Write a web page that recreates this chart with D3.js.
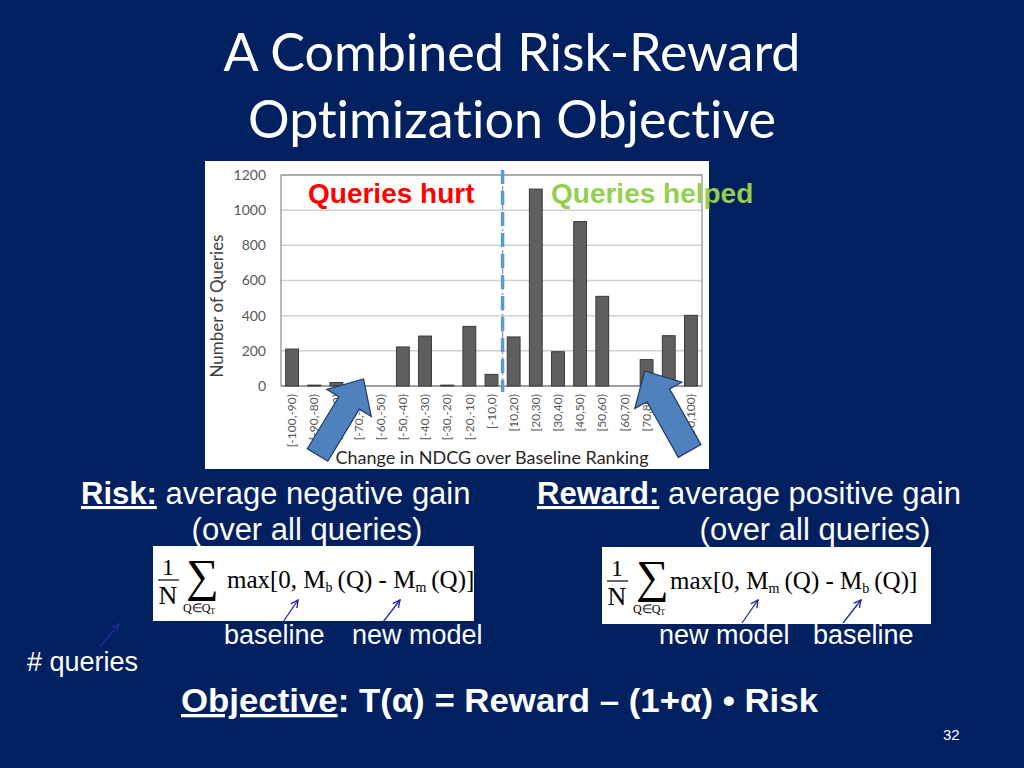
<!DOCTYPE html>
<html>
<head>
<meta charset="utf-8">
<script src="https://cdnjs.cloudflare.com/ajax/libs/d3/7.8.5/d3.min.js"></script>
<style>
  body { margin: 0; background: #002060; }
  svg { display: block; }
  text { font-variant-ligatures: none; }
</style>
</head>
<body>
<svg id="slide" width="1024" height="768"></svg>
<script>
"use strict";

// chart data
var categories = ["[-100,-90)", "[-90,-80)", "[-80,-70)", "[-70,-60)", "[-60,-50)",
                  "[-50,-40)", "[-40,-30)", "[-30,-20)", "[-20,-10)", "[-10,0)",
                  "[10,20)", "[20,30)", "[30,40)", "[40,50)", "[50,60)",
                  "[60,70)", "[70,80)", "[80,90)", "[90,100)"];
var counts = [210, 5, 20, 0, 0, 222, 284, 5, 339, 66,
              279, 1120, 195, 935, 510, 0, 150, 286, 402];
var yTicks = [0, 200, 400, 600, 800, 1000, 1200];
var splitIndex = 10;   // first "helped" bucket

var svg = d3.select("#slide");
var sans = "'Liberation Sans', Arial, sans-serif";
var serif = "'Liberation Serif', 'Times New Roman', serif";
var calibri = "Lato, 'Open Sans', sans-serif";

svg.append("rect").attr("width", 1024).attr("height", 768).attr("fill", "#002060");

// title
var title = ["A Combined Risk-Reward", "Optimization Objective"];
svg.selectAll("text.title").data(title).enter().append("text")
    .attr("class", "title")
    .attr("x", 512)
    .attr("y", function(d, i) { return 71 + i * 67; })
    .attr("text-anchor", "middle")
    .attr("fill", "white")
    .style("font-family", calibri)
    .style("font-size", "52px")
    .text(function(d) { return d; });

// ---- histogram picture ----
svg.append("rect")
    .attr("x", 205).attr("y", 161).attr("width", 504).attr("height", 308)
    .attr("fill", "white");

var plot = { left: 281, right: 702, top: 175, bottom: 386 };

var x = d3.scaleBand()
    .domain(categories)
    .range([plot.left, plot.right])
    .paddingInner(0.42)
    .paddingOuter(0.21);

var y = d3.scaleLinear()
    .domain([0, 1200])
    .range([plot.bottom, plot.top]);

var chart = svg.append("g");

// gridlines
chart.selectAll("line.grid").data(yTicks).enter().append("line")
    .attr("class", "grid")
    .attr("x1", plot.left).attr("x2", plot.right)
    .attr("y1", function(d) { return y(d); })
    .attr("y2", function(d) { return y(d); })
    .attr("stroke", function(d) { return d === 0 ? "#a6a6a6" : "#d0d0d0"; })
    .attr("stroke-width", 1.5);

chart.append("rect")
    .attr("x", plot.left).attr("y", plot.top)
    .attr("width", plot.right - plot.left).attr("height", plot.bottom - plot.top)
    .attr("fill", "none")
    .attr("stroke", "#8c8c8c")
    .attr("stroke-width", 1.2);

// bars
chart.selectAll("rect.bar").data(counts).enter().append("rect")
    .attr("class", "bar")
    .attr("x", function(d, i) { return x(categories[i]); })
    .attr("y", function(d) { return y(d); })
    .attr("width", x.bandwidth())
    .attr("height", function(d) { return plot.bottom - y(d); })
    .attr("fill", "#5f5f5f")
    .attr("stroke", "#3a3a3a")
    .attr("stroke-width", 1);

// y axis
var yAxis = chart.append("g")
    .attr("transform", "translate(" + plot.left + ",0)")
    .call(d3.axisLeft(y).tickValues(yTicks).tickFormat(d3.format("d"))
        .tickSize(0).tickPadding(15));
yAxis.select(".domain").remove();
yAxis.selectAll("text")
    .attr("fill", "#595959")
    .style("font-family", calibri)
    .style("font-size", "14px");

// x axis, labels rotated
var xAxis = chart.append("g")
    .attr("transform", "translate(0," + plot.bottom + ")")
    .call(d3.axisBottom(x).tickSize(0));
xAxis.select(".domain").remove();
xAxis.selectAll("text")
    .attr("transform", "rotate(-90)")
    .attr("text-anchor", "end")
    .attr("x", -8)
    .attr("y", 0)
    .attr("dy", "0.35em")
    .attr("fill", "#595959")
    .style("font-family", calibri)
    .style("font-size", "12px");

chart.append("text")
    .attr("transform", "translate(223,306) rotate(-90)")
    .attr("text-anchor", "middle")
    .attr("fill", "#404040")
    .style("font-family", calibri)
    .style("font-size", "17px")
    .text("Number of Queries");

chart.append("text")
    .attr("x", 492).attr("y", 464)
    .attr("text-anchor", "middle")
    .attr("fill", "#262626")
    .style("font-family", calibri)
    .style("font-size", "18px")
    .text("Change in NDCG over Baseline Ranking");

// split line between hurt and helped
var splitX = x(categories[splitIndex]) - x.step() * x.paddingInner() / 2;
chart.append("line")
    .attr("x1", splitX).attr("x2", splitX)
    .attr("y1", 170).attr("y2", plot.bottom + 6)
    .attr("stroke", "#a0a0a0").attr("stroke-width", 1.5)
    .attr("stroke-dasharray", "8,3,2,3");
chart.append("line")
    .attr("x1", splitX).attr("x2", splitX)
    .attr("y1", 170).attr("y2", plot.bottom + 6)
    .attr("stroke", "#5b9bd5").attr("stroke-width", 3.5)
    .attr("stroke-dasharray", "14,7");

chart.append("text")
    .attr("x", 308).attr("y", 203)
    .attr("fill", "#ff0000")
    .style("font-family", sans).style("font-weight", "bold").style("font-size", "28px")
    .text("Queries hurt");
chart.append("text")
    .attr("x", 551).attr("y", 203)
    .attr("fill", "#92d050")
    .style("font-family", sans).style("font-weight", "bold").style("font-size", "28px")
    .text("Queries helped");

// block arrows pointing at the tails of the distribution
function blockArrow(tail, tip, shaftW, headW, headL) {
    var dx = tip[0] - tail[0], dy = tip[1] - tail[1];
    var len = Math.sqrt(dx * dx + dy * dy);
    var ux = dx / len, uy = dy / len, px = -uy, py = ux;
    var bx = tip[0] - ux * headL, by = tip[1] - uy * headL;
    var pts = [
        [tail[0] + px * shaftW / 2, tail[1] + py * shaftW / 2],
        [bx + px * shaftW / 2, by + py * shaftW / 2],
        [bx + px * headW / 2, by + py * headW / 2],
        tip,
        [bx - px * headW / 2, by - py * headW / 2],
        [bx - px * shaftW / 2, by - py * shaftW / 2],
        [tail[0] - px * shaftW / 2, tail[1] - py * shaftW / 2]
    ];
    return pts.map(function(p) { return p.join(","); }).join(" ");
}

var leftTip = [x(categories[3]) + x.bandwidth() / 2 + 5, y(0) - 7];
var rightTip = [x(categories[16]) + x.bandwidth() / 2 - 2, y(0) - 15];
var arrows = [
    { tip: leftTip, tail: [leftTip[0] - 46, leftTip[1] + 76], shaft: 24, head: 52 },
    { tip: rightTip, tail: [rightTip[0] + 45, rightTip[1] + 80], shaft: 26, head: 54 }
];
chart.selectAll("polygon.big").data(arrows).enter().append("polygon")
    .attr("class", "big")
    .attr("points", function(d) { return blockArrow(d.tail, d.tip, d.shaft, d.head, 28); })
    .attr("fill", "#4f81bd")
    .attr("stroke", "#1f3a60")
    .attr("stroke-width", 1.2);

// ---- risk / reward text ----
function labelLine(xPos, yPos, bold, rest) {
    var t = svg.append("text")
        .attr("x", xPos).attr("y", yPos)
        .attr("fill", "white")
        .style("font-family", sans)
        .style("font-size", "31px");
    t.append("tspan").style("font-weight", "bold")
        .style("text-decoration", "underline").text(bold);
    t.append("tspan").text(" " + rest);
}
labelLine(81, 504, "Risk:", "average negative gain");
labelLine(537, 504, "Reward:", "average positive gain");

[[307, "(over all queries)"], [815, "(over all queries)"]].forEach(function(d) {
    svg.append("text")
        .attr("x", d[0]).attr("y", 540)
        .attr("text-anchor", "middle")
        .attr("fill", "white")
        .style("font-family", sans).style("font-size", "31px")
        .text(d[1]);
});

// formula boxes
function formula(bx, by, bw, bh, sigmaX, maxX, first, second) {
    var g = svg.append("g");
    g.append("rect").attr("x", bx).attr("y", by).attr("width", bw).attr("height", bh)
        .attr("fill", "white");
    var fx = bx + 15;
    g.append("text").attr("x", fx).attr("y", by + 29).attr("text-anchor", "middle")
        .style("font-family", serif).style("font-size", "24px").text("1");
    g.append("line").attr("x1", fx - 10).attr("x2", fx + 11)
        .attr("y1", by + 34).attr("y2", by + 34)
        .attr("stroke", "black").attr("stroke-width", 1.2);
    g.append("text").attr("x", fx).attr("y", by + 58).attr("text-anchor", "middle")
        .style("font-family", serif).style("font-size", "26px").text("N");
    g.append("text").attr("x", sigmaX).attr("y", by + 45)
        .style("font-family", serif).style("font-size", "46px").text("\u2211");
    var q = g.append("text").attr("x", sigmaX - 3).attr("y", by + 66)
        .style("font-family", serif).style("font-size", "12px");
    q.append("tspan").text("Q\u2208Q");
    q.append("tspan").attr("dy", 2).style("font-size", "8px").text("T");

    var m = g.append("text").attr("x", maxX).attr("y", by + 42)
        .style("font-family", serif).style("font-size", "25px");
    m.append("tspan").text("max[0, M");
    m.append("tspan").attr("dy", 4).style("font-size", "14px").text(first);
    m.append("tspan").attr("dy", -4).text("\u2009(Q) - M");
    m.append("tspan").attr("dy", 4).style("font-size", "14px").text(second);
    m.append("tspan").attr("dy", -4).text("\u2009(Q)]");
}
formula(153, 546, 321, 75, 186, 227, "b", "m");
formula(602, 547, 329, 77, 636, 670, "m", "b");

// thin pointer arrows
var pointers = [
    [100, 647, 119, 624], [283, 622, 298, 600], [383, 622, 400, 600],
    [742, 623, 758, 600], [843, 623, 861, 600]
];
svg.append("defs").append("marker")
    .attr("id", "open").attr("viewBox", "0 0 10 10")
    .attr("refX", 9).attr("refY", 5)
    .attr("markerWidth", 7).attr("markerHeight", 7)
    .attr("orient", "auto")
    .append("path").attr("d", "M1,1 L9,5 L1,9")
    .attr("fill", "none").attr("stroke", "#1f2aa0").attr("stroke-width", 1.5);
svg.selectAll("line.pointer").data(pointers).enter().append("line")
    .attr("class", "pointer")
    .attr("x1", function(d) { return d[0]; }).attr("y1", function(d) { return d[1]; })
    .attr("x2", function(d) { return d[2]; }).attr("y2", function(d) { return d[3]; })
    .attr("stroke", "#1f2aa0").attr("stroke-width", 1.3)
    .attr("marker-end", "url(#open)");

var notes = [
    [224, 644, "baseline"], [352, 644, "new model"], [27, 671, "# queries"],
    [659, 644, "new model"], [813, 644, "baseline"]
];
svg.selectAll("text.note").data(notes).enter().append("text")
    .attr("class", "note")
    .attr("x", function(d) { return d[0]; }).attr("y", function(d) { return d[1]; })
    .attr("fill", "white")
    .style("font-family", sans).style("font-size", "27px")
    .text(function(d) { return d[2]; });

// objective
var obj = svg.append("text")
    .attr("x", 181).attr("y", 712)
    .attr("fill", "white")
    .attr("textLength", 637).attr("lengthAdjust", "spacingAndGlyphs")
    .style("font-family", sans).style("font-weight", "bold").style("font-size", "33px");
obj.append("tspan").style("text-decoration", "underline").text("Objective");
obj.append("tspan").text(":  T(\u03b1) = Reward \u2013 (1+\u03b1) \u2022 Risk");

svg.append("text")
    .attr("x", 943).attr("y", 740)
    .attr("fill", "white")
    .style("font-family", sans).style("font-size", "15px")
    .text("32");
</script>
</body>
</html>
